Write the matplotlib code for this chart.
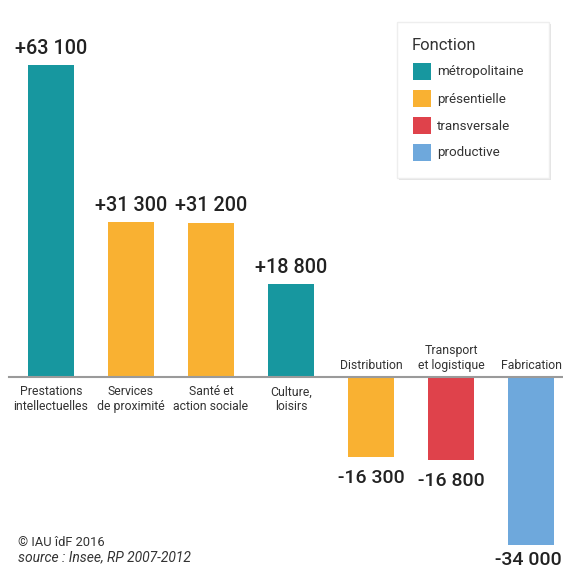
import matplotlib.pyplot as plt
from matplotlib.patches import Rectangle, FancyBboxPatch

# data
categories = ['Prestations\nintellectuelles', 'Services\nde proximité', 'Santé et\naction sociale',
              'Culture,\nloisirs', 'Distribution', 'Transport\net logistique', 'Fabrication']
values = [63100, 31300, 31200, 18800, -16300, -16800, -34000]
value_labels = ['+63 100', '+31 300', '+31 200', '+18 800', '-16 300', '-16 800', '-34 000']
functions = ['métropolitaine', 'présentielle', 'présentielle', 'métropolitaine',
             'présentielle', 'transversale', 'productive']
legend_names = ['métropolitaine', 'présentielle', 'transversale', 'productive']
colors = {'métropolitaine': '#17979f', 'présentielle': '#f9b132',
          'transversale': '#df424b', 'productive': '#6ea8dc'}

plt.rcParams['font.family'] = ['Roboto', 'DejaVu Sans']

YMIN, YMAX = -38870, 76300
fig = plt.figure(figsize=(5.63, 5.69), dpi=100)
ax = fig.add_axes([0, 0, 1, 1])
ax.set_xlim(-0.6375, 6.4)
ax.set_ylim(YMIN, YMAX)
ax.axis('off')

x = list(range(len(values)))
ax.bar(x, values, width=0.575, color=[colors[f] for f in functions], zorder=2)
ax.plot([-0.52, 6.4], [0, 0], color='#9a9a9a', lw=1.5, zorder=3)

for i, v in enumerate(values):
    if v > 0:
        ax.text(i, v + 1500, value_labels[i], ha='center', va='bottom', fontsize=14.3,
                fontweight='medium', color='#222222')
        ax.text(i, -1700, categories[i], ha='center', va='top', fontsize=8.8,
                color='#333333', linespacing=1.2)
    else:
        # keep the last label inside the figure
        xi = min(i, 6.4 - 0.43)
        yi = max(v - 5200, YMIN + 900)
        ax.text(xi, yi, value_labels[i], ha='center', va='baseline', fontsize=14,
                fontweight='medium', color='#222222')
        ax.text(i, 1100, categories[i], ha='center', va='bottom', fontsize=8.8,
                color='#333333', linespacing=1.2)

# legend box
lx0, ly0, lw, lh = 397 / 563, 1 - 178 / 569, 152 / 563, 156 / 569
shadow = FancyBboxPatch((lx0 + 0.003, ly0 - 0.004), lw, lh, boxstyle='square,pad=0',
                        transform=fig.transFigure, facecolor='#e4e4e4', edgecolor='none', zorder=4)
box = FancyBboxPatch((lx0, ly0), lw, lh, boxstyle='square,pad=0',
                     transform=fig.transFigure, facecolor='white', edgecolor='#eeeeee', zorder=5)
fig.patches.extend([shadow, box])
fig.text(412 / 563, 1 - 46 / 569, 'Fonction', fontsize=12, va='center', color='#333333', zorder=6)
for k, name in enumerate(legend_names):
    yc = 72 + k * 27
    fig.patches.append(Rectangle((413 / 563, 1 - (yc + 8) / 569), 18 / 563, 17 / 569,
                                 transform=fig.transFigure, facecolor=colors[name],
                                 edgecolor='none', zorder=6))
    fig.text(437 / 563, 1 - yc / 569, name, fontsize=9.6, va='center', color='#333333', zorder=6)

# footer
fig.text(18 / 563, 1 - 543 / 569, '© IAU îdF 2016', fontsize=9.3, va='center', color='#333333')
fig.text(18 / 563, 1 - 557 / 569, 'source : Insee, RP 2007-2012', fontsize=10, va='center',
         style='italic', color='#333333')

fig.savefig('out.png', dpi=100)
